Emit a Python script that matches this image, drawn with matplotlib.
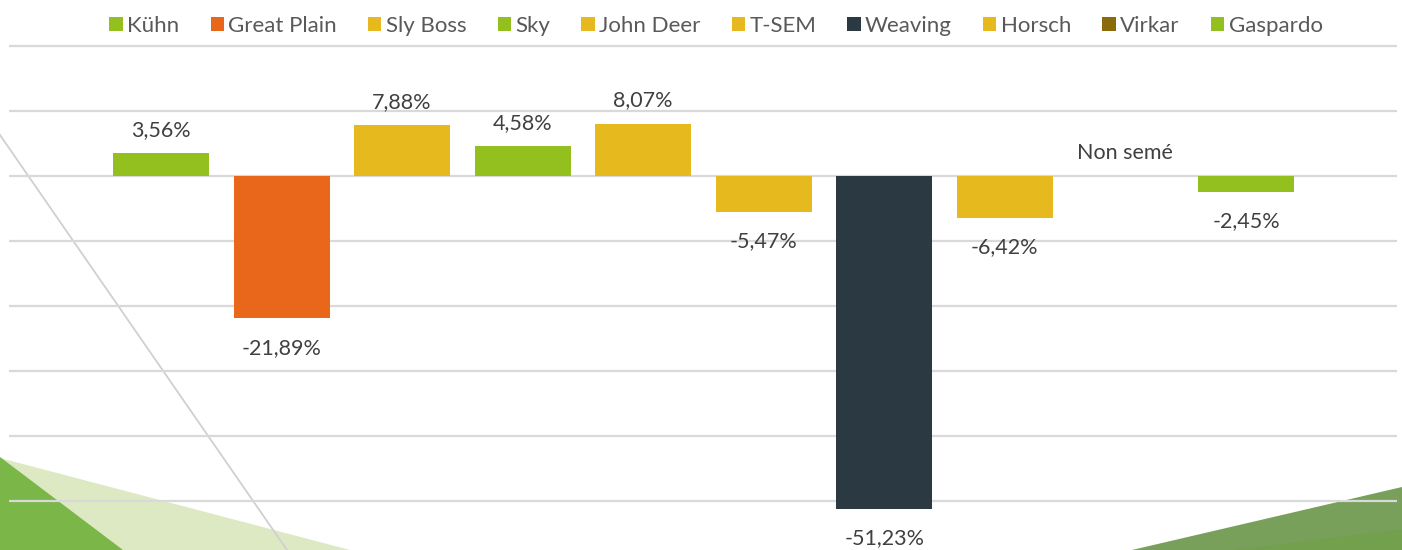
import numpy as np
import matplotlib.pyplot as plt
from matplotlib.patches import Polygon

#-----Data-----#
names = ["Kühn", "Great Plain", "Sly Boss", "Sky", "John Deer",
         "T-SEM", "Weaving", "Horsch", "Virkar", "Gaspardo"]
values = [3.56, -21.89, 7.88, 4.58, 8.07, -5.47, -51.23, -6.42, np.nan, -2.45]
labels = ["3,56%", "-21,89%", "7,88%", "4,58%", "8,07%",
          "-5,47%", "-51,23%", "-6,42%", "Non semé", "-2,45%"]
colors = ["#93c01f", "#e8671a", "#e6b91e", "#93c01f", "#e6b91e",
          "#e6b91e", "#2b3a42", "#e6b91e", "#8b6a0c", "#93c01f"]

plt.rcParams['font.family'] = ['Lato', 'DejaVu Sans']

W, H = 1402, 550
fig = plt.figure(figsize=(W / 100, H / 100), dpi=100)

#-----Background decorations (pixel coords)-----#
bg = fig.add_axes([0, 0, 1, 1], zorder=0)
bg.set_xlim(0, W)
bg.set_ylim(H, 0)
bg.axis("off")
bg.add_patch(Polygon([(0, 458), (350, 550), (0, 550)], closed=True, color="#dde9c3", lw=0))
bg.add_patch(Polygon([(0, 457), (123, 550), (0, 550)], closed=True, color="#7ab648", lw=0))
bg.add_patch(Polygon([(1132, 550), (1402, 487), (1402, 550)], closed=True, color="#78a05a", lw=0))
bg.add_patch(Polygon([(1233, 550), (1402, 529), (1402, 550)], closed=True, color="#72a04c", lw=0))
bg.plot([0, 287], [135, 550], color="#d0d0d0", lw=1.3)

#-----Main chart-----#
ax = fig.add_axes([9 / W, 0, 1388 / W, 1], zorder=1)
ax.patch.set_alpha(0)

x = np.arange(len(names))
for i in range(len(names)):
    h = 0 if np.isnan(values[i]) else values[i]
    ax.bar(x[i], h, width=0.797, color=colors[i], label=names[i], zorder=3)

for i in range(len(names)):
    v = 0 if np.isnan(values[i]) else values[i]
    if v >= 0:
        ax.annotate(labels[i], (x[i], v), xytext=(0, 9.5), textcoords="offset points",
                    ha="center", va="bottom", fontsize=15.5, color="#404040")
    else:
        ax.annotate(labels[i], (x[i], v), xytext=(0, -14), textcoords="offset points",
                    ha="center", va="top", fontsize=15.5, color="#404040")

ax.set_xlim(-1.261, 10.253)
ax.set_ylim(-57.54, 27.08)
ax.set_yticks(np.arange(-50, 30, 10))
ax.set_xticks([])
ax.tick_params(left=False, labelleft=False)
ax.grid(axis="y", color="#d9d9d9", lw=1.6, zorder=1)
for s in ax.spines.values():
    s.set_visible(False)

handles, lbls = ax.get_legend_handles_labels()
fig.legend(handles, lbls, loc="center", bbox_to_anchor=(716 / W, 1 - 26 / H),
           ncol=10, frameon=False, fontsize=16, handlelength=0.6, handleheight=0.6,
           handletextpad=0.2, columnspacing=1.4, labelcolor="#595959")

fig.savefig("out.png", dpi=100)
